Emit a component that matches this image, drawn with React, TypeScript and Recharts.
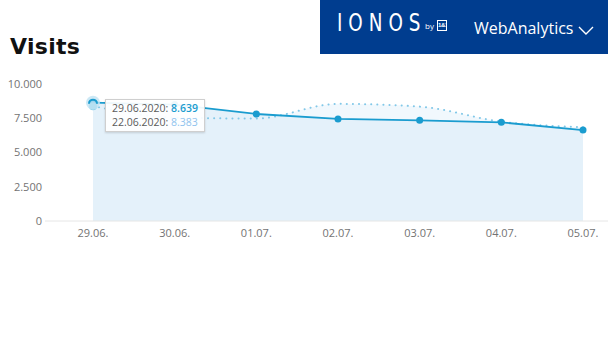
import React from 'react';
import { ComposedChart, Area, Line, XAxis, YAxis, Tooltip } from 'recharts';

const categories = ['29.06.', '30.06.', '01.07.', '02.07.', '03.07.', '04.07.', '05.07.'];
const currentVisits = [8639, 8500, 7810, 7450, 7350, 7200, 6640];
const previousVisits = [8383, 7550, 7480, 8550, 8350, 7250, 6850];
const currentDates = ['29.06.2020', '30.06.2020', '01.07.2020', '02.07.2020', '03.07.2020', '04.07.2020', '05.07.2020'];
const previousDates = ['22.06.2020', '23.06.2020', '24.06.2020', '25.06.2020', '26.06.2020', '27.06.2020', '28.06.2020'];
const yTicks = [0, 2500, 5000, 7500, 10000];

const data = categories.map((c, i) => ({
  day: c,
  cur: currentVisits[i],
  prev: previousVisits[i],
  curFill: currentVisits[i],
  prevFill: previousVisits[i],
}));

const fmt = (v: number) => v.toLocaleString('de-DE');

const BLUE = '#1a9ccf';
const LIGHT = '#82c8e8';

const TooltipBox = (props: any) => {
  const { active, label } = props;
  if (!active) return null;
  const idx = categories.indexOf(label);
  if (idx < 0) return null;
  return (
    <div
      style={{
        background: 'rgba(255,255,255,0.92)',
        border: '1px solid #cfcfcf',
        boxShadow: '0 1px 2px rgba(0,0,0,0.15)',
        padding: '1px 6px 1px 6px',
        fontFamily: '"Open Sans", sans-serif',
        fontSize: 10.5,
        lineHeight: '14.4px',
        color: '#5a5a5a',
        whiteSpace: 'nowrap',
        width: 86,
      }}
    >
      <div>
        {currentDates[idx]}: <span style={{ color: BLUE, fontWeight: 600 }}>{fmt(currentVisits[idx])}</span>
      </div>
      <div>
        {previousDates[idx]}: <span style={{ color: '#8fc3ee' }}>{fmt(previousVisits[idx])}</span>
      </div>
    </div>
  );
};

const CurActiveDot = (props: any) => {
  const { cx, cy } = props;
  return (
    <g>
      <circle cx={cx} cy={cy} r={7} fill="#bfe2f3" opacity={0.8} />
      <path d={`M ${cx - 4} ${cy + 1} A 4 4 0 0 1 ${cx + 4} ${cy + 1}`} fill="none" stroke={BLUE} strokeWidth={2} />
    </g>
  );
};

const PrevActiveDot = (props: any) => {
  const { cx, cy } = props;
  return <circle cx={cx} cy={cy} r={4} fill="#8ccfea" />;
};

export default function App() {
  return (
    <div style={{ position: 'absolute', left: 0, top: 0, width: 608, height: 342, background: '#fff', overflow: 'hidden' }}>
      <div
        style={{
          position: 'absolute',
          left: 10,
          top: 34,
          fontFamily: '"DejaVu Sans", sans-serif',
          fontWeight: 'bold',
          fontSize: 22,
          letterSpacing: 0.3,
          color: '#111',
          lineHeight: '26px',
        }}
      >
        Visits
      </div>
      <div style={{ position: 'absolute', left: 320, top: 0, width: 288, height: 54, background: '#003d8f' }}>
        <div
          style={{
            position: 'absolute',
            left: 17,
            top: 9,
            fontFamily: '"Liberation Sans Narrow", "DejaVu Sans Condensed", sans-serif',
            fontSize: 24,
            color: '#fff',
            letterSpacing: 7,
            lineHeight: '28px',
            transform: 'scaleX(0.85)',
            transformOrigin: 'left center',
            whiteSpace: 'nowrap',
          }}
        >
          IONOS
        </div>
        <div
          style={{
            position: 'absolute',
            left: 105,
            top: 20,
            fontFamily: '"Open Sans", sans-serif',
            fontSize: 8,
            color: '#fff',
            lineHeight: '11px',
          }}
        >
          by
        </div>
        <div
          style={{
            position: 'absolute',
            left: 117,
            top: 20,
            width: 10,
            height: 11,
            border: '1px solid #fff',
            fontFamily: '"Liberation Sans Narrow", sans-serif',
            fontSize: 6,
            fontWeight: 'bold',
            color: '#fff',
            lineHeight: '9px',
            textAlign: 'center',
            boxSizing: 'border-box',
            letterSpacing: -0.3,
            overflow: 'hidden',
          }}
        >
          1&amp;1
        </div>
        <div
          style={{
            position: 'absolute',
            left: 154,
            top: 17,
            fontFamily: '"Open Sans", sans-serif',
            fontSize: 16,
            color: '#fff',
            lineHeight: '22px',
          }}
        >
          WebAnalytics
        </div>
        <svg style={{ position: 'absolute', left: 257, top: 24 }} width={20} height={14}>
          <polyline points="2,3 9,10 16,3" fill="none" stroke="#fff" strokeWidth={1.4} />
        </svg>
      </div>
      <div style={{ position: 'absolute', left: 0, top: 0 }}>
        <ComposedChart width={608} height={342} data={data} margin={{ top: 84, right: 0, bottom: 91, left: 0 }}>
          <XAxis
            dataKey="day"
            padding={{ left: 48, right: 25 }}
            axisLine={{ stroke: '#e6e6e6' }}
            tickLine={false}
            tick={{ fontSize: 11, fill: '#737373', fontFamily: '"Open Sans", sans-serif' }}
            height={30}
            interval={0}
          />
          <YAxis
            domain={[0, 10000]}
            ticks={yTicks}
            width={45}
            axisLine={false}
            tickLine={false}
            tickSize={2}
            tickMargin={1}
            tickFormatter={fmt}
            tick={{ fontSize: 11, fill: '#737373', fontFamily: '"Open Sans", sans-serif' }}
          />
          <Area
            dataKey="prevFill"
            type="monotone"
            stroke="none"
            fill="#f1f8fd"
            fillOpacity={1}
            isAnimationActive={false}
            activeDot={false}
            dot={false}
          />
          <Area
            dataKey="curFill"
            type="linear"
            stroke="none"
            fill="#e4f1fa"
            fillOpacity={1}
            isAnimationActive={false}
            activeDot={false}
            dot={false}
          />
          <Line
            dataKey="prev"
            type="monotone"
            stroke={LIGHT}
            strokeWidth={2}
            strokeDasharray="0.1 6"
            strokeLinecap="round"
            dot={false}
            activeDot={<PrevActiveDot />}
            isAnimationActive={false}
          />
          <Line
            dataKey="cur"
            type="linear"
            stroke={BLUE}
            strokeWidth={1.8}
            dot={{ r: 3.5, fill: BLUE, stroke: BLUE, strokeWidth: 0 }}
            activeDot={<CurActiveDot />}
            isAnimationActive={false}
          />
          <Tooltip
            defaultIndex={0}
            active={true}
            cursor={false}
            position={{ x: 105, y: 99 }}
            content={<TooltipBox />}
            isAnimationActive={false}
            wrapperStyle={{ outline: 'none' }}
          />
        </ComposedChart>
      </div>
    </div>
  );
}
